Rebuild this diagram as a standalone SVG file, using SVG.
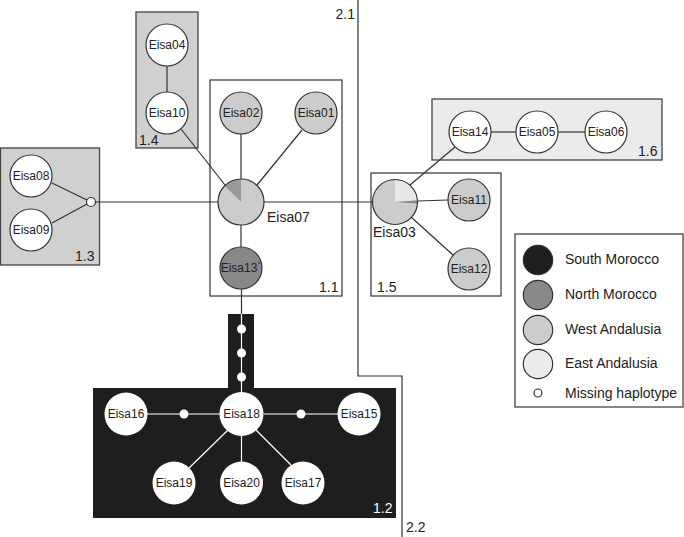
<svg xmlns="http://www.w3.org/2000/svg" width="684" height="537" viewBox="0 0 684 537">
<style>
text{font-family:"Liberation Sans",Arial,sans-serif;fill:#222}
.n{font-size:12px;text-anchor:middle;dominant-baseline:central}
.lbl{font-size:14px}
.box{stroke:#444;stroke-width:1.3}
.c{stroke:#333;stroke-width:1.2}
.w{fill:#fff}
.lg{fill:#ccc}
.dg{fill:#888}
.el{fill:#ebebeb}
.ln{stroke:#333;stroke-width:1.2;fill:none}
.wl{stroke:#fff;stroke-width:1.2;fill:none}
.leg{font-size:14px;dominant-baseline:central}
</style>
<rect width="684" height="537" fill="#fff"/>
<g id="regions">
<rect class="box" x="136" y="12" width="62" height="136" fill="#d0d0d0"/>
<text class="lbl" x="139" y="145">1.4</text>
<rect class="box" x="0.5" y="148" width="99" height="117" fill="#d0d0d0"/>
<text class="lbl" x="75" y="261">1.3</text>
<rect class="box" x="210" y="80" width="132" height="216" fill="#fff"/>
<text class="lbl" x="319" y="292">1.1</text>
<rect class="box" x="432" y="99" width="230" height="61" fill="#ebebeb"/>
<text class="lbl" x="638" y="156">1.6</text>
<rect class="box" x="371" y="173" width="130" height="123" fill="#fff"/>
<text class="lbl" x="377" y="292">1.5</text>
<path d="M93,388 H228 V314 H254 V388 H396 V518 H93 Z" fill="#1e1e1e"/>
<text class="lbl" x="373" y="513" style="fill:#fff">1.2</text>
</g>
<g id="divider">
<path class="ln" d="M358,0 V376 H402 V537"/>
<text class="lbl" x="355" y="19" text-anchor="end">2.1</text>
<text class="lbl" x="406" y="532">2.2</text>
</g>
<g id="connectors">
<line class="ln" x1="167" y1="66" x2="167" y2="92"/>
<line class="ln" x1="181" y1="129" x2="225" y2="185"/>
<line class="ln" x1="241" y1="134" x2="241" y2="179"/>
<line class="ln" x1="302" y1="130" x2="257" y2="185"/>
<line class="ln" x1="241" y1="225" x2="241" y2="247"/>
<line class="ln" x1="52" y1="183" x2="87" y2="200"/>
<line class="ln" x1="52" y1="223" x2="87" y2="204"/>
<line class="ln" x1="95.5" y1="202" x2="218" y2="202"/>
<line class="ln" x1="264" y1="202" x2="372.5" y2="202"/>
<line class="ln" x1="410" y1="185" x2="455" y2="147"/>
<line class="ln" x1="417.5" y1="201" x2="448" y2="200"/>
<line class="ln" x1="411" y1="217" x2="453" y2="255"/>
<line class="ln" x1="491" y1="132" x2="516" y2="132"/>
<line class="ln" x1="558" y1="132" x2="585" y2="132"/>
<line class="ln" x1="241.5" y1="289" x2="241.5" y2="314"/>
<path class="wl" d="M241.5,314 V393"/>
<line class="wl" x1="147" y1="414" x2="220" y2="414"/>
<line class="wl" x1="264" y1="414" x2="338" y2="414"/>
<line class="wl" x1="228" y1="430" x2="189" y2="468"/>
<line class="wl" x1="241.5" y1="435" x2="241.5" y2="462"/>
<line class="wl" x1="256" y1="430" x2="291" y2="465"/>
</g>
<g id="Eisa04"><circle class="c w" cx="167" cy="45" r="21"/><text class="n" x="167" y="45">Eisa04</text></g>
<g id="Eisa10"><circle class="c w" cx="167" cy="113" r="21"/><text class="n" x="167" y="113">Eisa10</text></g>
<g id="Eisa02"><circle class="c lg" cx="241" cy="113" r="21"/><text class="n" x="241" y="113">Eisa02</text></g>
<g id="Eisa01"><circle class="c lg" cx="316" cy="113" r="21"/><text class="n" x="316" y="113">Eisa01</text></g>
<g id="Eisa07">
<circle cx="241" cy="202" r="23" fill="#ccc"/>
<path d="M241,202 V179 A23,23 0 0 0 224.7,185.7 Z" fill="#999"/>
<circle class="c" cx="241" cy="202" r="23" fill="none"/>
<text class="lbl" x="267" y="222">Eisa07</text>
</g>
<g id="Eisa13"><circle class="c dg" cx="241" cy="268" r="21"/><text class="n" x="241" y="268">Eisa13`</text></g>
<g id="Eisa08"><circle class="c w" cx="31" cy="176" r="21"/><text class="n" x="31" y="176">Eisa08</text></g>
<g id="Eisa09"><circle class="c w" cx="31" cy="230" r="21"/><text class="n" x="31" y="230">Eisa09</text></g>
<g id="missing13"><circle class="c w" cx="91" cy="202" r="4.5"/></g>
<g id="Eisa03">
<circle cx="395" cy="202" r="22.5" fill="#ccc"/>
<path d="M395,202 V179.5 A22.5,22.5 0 0 1 417.4,200.0 Z" fill="#e8e8e8"/>
<path d="M395,202 L417.4,200.4 A22.5,22.5 0 0 1 417.4,203.6 Z" fill="#888"/>
<circle class="c" cx="395" cy="202" r="22.5" fill="none"/>
<text class="lbl" x="373" y="237">Eisa03</text>
</g>
<g id="Eisa11"><circle class="c lg" cx="469" cy="200" r="21"/><text class="n" x="469" y="200">Eisa11</text></g>
<g id="Eisa12"><circle class="c lg" cx="469" cy="269" r="21"/><text class="n" x="469" y="269">Eisa12</text></g>
<g id="Eisa14"><circle class="c w" cx="470" cy="132" r="21"/><text class="n" x="470" y="132">Eisa14</text></g>
<g id="Eisa05"><circle class="c w" cx="537" cy="132" r="21"/><text class="n" x="537" y="132">Eisa05</text></g>
<g id="Eisa06"><circle class="c w" cx="606" cy="132" r="21"/><text class="n" x="606" y="132">Eisa06</text></g>
<g id="missing12a"><circle class="w" cx="241.5" cy="329" r="4.5"/></g>
<g id="missing12b"><circle class="w" cx="241.5" cy="353" r="4.5"/></g>
<g id="missing12c"><circle class="w" cx="241.5" cy="377" r="4.5"/></g>
<g id="missing12d"><circle class="w" cx="184" cy="414" r="4.5"/></g>
<g id="missing12e"><circle class="w" cx="301" cy="414" r="4.5"/></g>
<g id="Eisa18"><circle class="w" cx="241.5" cy="414" r="22"/><text class="n" x="241.5" y="414">Eisa18</text></g>
<g id="Eisa16"><circle class="w" cx="126" cy="414" r="21.5"/><text class="n" x="126" y="414">Eisa16</text></g>
<g id="Eisa15"><circle class="w" cx="359" cy="414" r="21.5"/><text class="n" x="359" y="414">Eisa15</text></g>
<g id="Eisa19"><circle class="w" cx="174" cy="483" r="21.5"/><text class="n" x="174" y="483">Eisa19</text></g>
<g id="Eisa20"><circle class="w" cx="241.5" cy="483" r="21.5"/><text class="n" x="241.5" y="483">Eisa20</text></g>
<g id="Eisa17"><circle class="w" cx="303" cy="483" r="21.5"/><text class="n" x="303" y="483">Eisa17</text></g>
<g id="legend">
<rect class="box" x="515" y="234" width="168" height="173" fill="#fff"/>
<circle class="c" cx="538" cy="260" r="14.7" fill="#1e1e1e"/>
<text class="leg" x="565" y="259">South Morocco</text>
<circle class="c" cx="538" cy="295" r="14.7" fill="#888"/>
<text class="leg" x="565" y="294">North Morocco</text>
<circle class="c" cx="538" cy="330" r="14.7" fill="#ccc"/>
<text class="leg" x="565" y="329">West Andalusia</text>
<circle class="c" cx="538" cy="364" r="14.7" fill="#ebebeb"/>
<text class="leg" x="565" y="363">East Andalusia</text>
<circle class="c" cx="538" cy="393" r="4" fill="#fff"/>
<text class="leg" x="565" y="393">Missing haplotype</text>
</g>
</svg>
